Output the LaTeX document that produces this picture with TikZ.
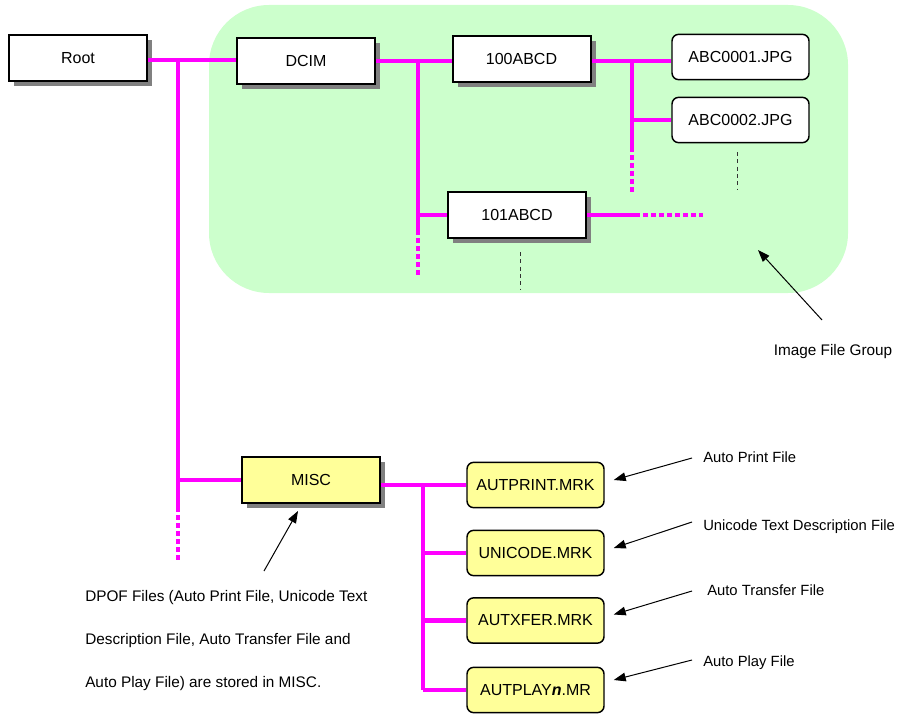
\documentclass[tikz,border=0pt]{standalone}
\usepackage{fontspec}
\setmainfont{Liberation Sans}
\usetikzlibrary{arrows.meta,shadows,calc}
\definecolor{grp}{RGB}{204,255,204}
\definecolor{mag}{RGB}{255,0,255}
\definecolor{yel}{RGB}{255,255,153}
\tikzset{
  dirbox/.style={draw, line width=1.5pt, fill=white, minimum width=103.5pt, minimum height=34.5pt,
    inner sep=0pt, font=\fontsize{12}{14}\selectfont,
    drop shadow={shadow xshift=3.75pt, shadow yshift=-3.75pt, fill=black!50, opacity=1}},
  filebox/.style={draw, line width=1.1pt, rounded corners=5pt, fill=white, minimum width=102.75pt,
    minimum height=34pt, inner sep=0pt, font=\fontsize{12}{14}\selectfont},
  mrkbox/.style={filebox, fill=yel},
  link/.style={draw=mag, line width=3.5pt},
  dotlink/.style={link, dash pattern=on 3.75pt off 2.25pt},
  callout/.style={draw, line width=0.75pt, -{Triangle[length=9pt,width=6.5pt]}},
  guide/.style={draw=black!80, line width=0.6pt, dash pattern=on 3pt off 2.5pt},
  lbl/.style={font=\fontsize{11.5}{13}\selectfont, inner sep=0pt, anchor=west},
  sidelbl/.style={lbl, font=\fontsize{11.1}{13}\selectfont},
}
\begin{document}
\begin{tikzpicture}[x=0.75pt,y=-0.75pt]
\useasboundingbox (0,0) rectangle (898,713);
% image file group
\fill[grp, rounded corners=45pt] (209,5) rectangle (848,293);

% nodes
\node[dirbox] (root) at (78,58) {Root};
\node[dirbox] (dcim) at (306,61) {DCIM};
\node[dirbox] (d100) at (521.5,59) {100ABCD};
\node[dirbox] (d101) at (517,215) {101ABCD};
\node[filebox] (f1) at (740.5,57) {ABC0001.JPG};
\node[filebox] (f2) at (740.5,120) {ABC0002.JPG};
\node[dirbox, fill=yel] (misc) at (311,480) {MISC};
\node[mrkbox] (mprint) at (535.5,485) {AUTPRINT.MRK};
\node[mrkbox] (muni) at (535.5,553) {UNICODE.MRK};
\node[mrkbox] (mxfer) at (535.5,620.5) {AUTXFER.MRK};
\node[mrkbox] (mplay) at (535.5,690) {AUTPLAY\textbf{\textit{n}}.MR};

% coordinates
\coordinate (t1) at (178,60);
\coordinate (t2) at (178,507);
\coordinate (t3) at (178,560);
\coordinate (a1) at (418,61);
\coordinate (a2) at (418,230);
\coordinate (a3) at (418,277);
\coordinate (b1) at (632,61);
\coordinate (b2) at (632,147);
\coordinate (b3) at (632,192);
\coordinate (e1) at (635,215);
\coordinate (e2) at (703,215);
\coordinate (m1) at (423,485);
\coordinate (m2) at (423,690);

% connectors
\draw[link] (root.east |- t1) -- (dcim.west |- t1);
\draw[link] (t1) -- (t2);
\draw[dotlink] (t2) -- (t3);
\draw[link] (t1 |- misc.west) -- (misc.west);

\draw[link] (dcim.east |- a1) -- (d100.west |- a1);
\draw[link] (a1) -- (a2);
\draw[dotlink] (a2) -- (a3);
\draw[link] (a1 |- d101.west) -- (d101.west);
\draw[link] (d101.east) -- (e1);
\draw[dotlink] (e1) -- (e2);

\draw[link] (d100.east |- b1) -- (f1.west |- b1);
\draw[link] (b1) -- (b2);
\draw[dotlink] (b2) -- (b3);
\draw[link] (b1 |- f2.west) -- (f2.west);

\draw[link] (misc.east |- m1) -- (mprint.west);
\draw[link] (m1) -- (m2);
\draw[link] (m1 |- muni.west) -- (muni.west);
\draw[link] (m1 |- mxfer.west) -- (mxfer.west);
\draw[link] (m1 |- mplay.west) -- (mplay.west);

% guides
\coordinate (g1) at (737,152);
\coordinate (g2) at (737,190);
\coordinate (g3) at (520,252);
\coordinate (g4) at (520,290);
\draw[guide] (g1) -- (g2);
\draw[guide] (g3) -- (g4);

% labels
\node[lbl, anchor=center] (lgroup) at (833,352) {Image File Group};
\node[sidelbl] (lprint) at (703,457) {Auto Print File};
\node[sidelbl] (luni) at (703,527) {Unicode Text Description File};
\node[sidelbl] (lxfer) at (707,590) {Auto Transfer File};
\node[sidelbl] (lplay) at (703,663) {Auto Play File};
\node[lbl] (dp1) at (85,598) {DPOF Files (Auto Print File, Unicode Text};
\node[lbl] (dp2) at (85,641) {Description File, Auto Transfer File and};
\node[lbl] (dp3) at (85,684) {Auto Play File) are stored in MISC.};

% callouts
\coordinate (c0t) at (822,320);
\coordinate (c0h) at (758,250);
\draw[callout] (c0t) -- (c0h);
\draw[callout] ($(lprint.west)+(-11,1)$) -- ($(mprint.east)+(9,-5)$);
\draw[callout] ($(luni.west)+(-11,-5)$) -- ($(muni.east)+(9,-5)$);
\draw[callout] ($(lxfer.west)+(-15,1)$) -- ($(mxfer.east)+(9,-6)$);
\draw[callout] ($(lplay.west)+(-11,-3)$) -- ($(mplay.east)+(9,-10)$);
\coordinate (c5t) at (264,571);
\draw[callout] (c5t) -- ($(misc.south)+(-13,7)$);
\end{tikzpicture}
\end{document}
